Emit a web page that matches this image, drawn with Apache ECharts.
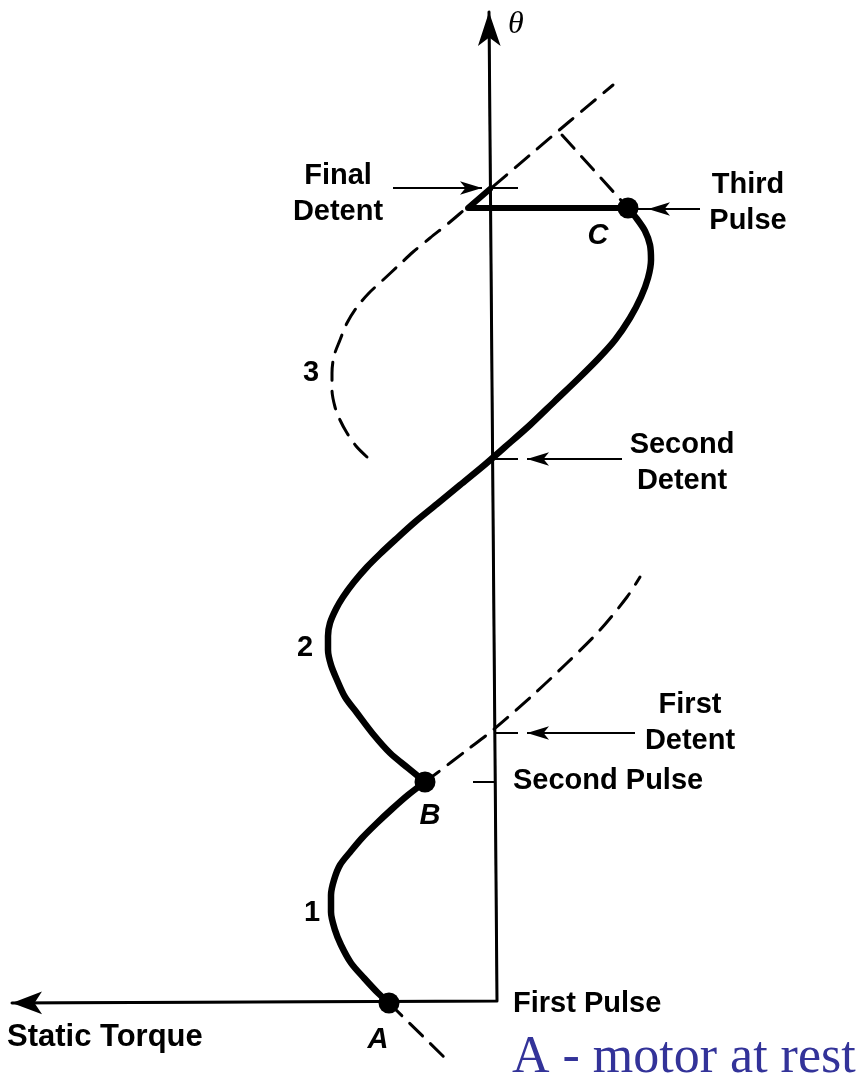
<!DOCTYPE html>
<html>
<head>
<meta charset="utf-8">
<script src="https://cdn.jsdelivr.net/npm/echarts@6/dist/echarts.min.js"></script>
<style>
  html, body { margin: 0; padding: 0; background: #fff; }
  #main { width: 863px; height: 1078px; }
</style>
</head>
<body>
<div id="main"></div>
<script>
// x = static torque (positive to the left), y = theta
const axisPath = [[478, -3], [-7, -1], [1, 988]];
// torque curve of phase 1, A -> B
const curve1 = [[101, -3], [112, 7], [126, 22], [139, 37], [149, 55], [155, 70], [159, 88],
  [159, 105], [156, 120], [150, 135], [139, 149], [128, 162], [113, 177], [98, 191],
  [82, 205], [65, 218]];
// torque curve of phase 2, B -> C
const curve2 = [[65, 218], [82, 232], [100, 247], [117, 266], [133, 287], [145, 303],
  [153, 320], [159, 335], [162, 350], [162, 364], [160, 377], [154, 391], [147, 403],
  [136, 418], [123, 433], [110, 446], [95, 460], [75, 478], [53, 496], [30, 515], [8, 533],
  [-15, 553], [-40, 575], [-65, 599], [-88, 621], [-108, 641], [-125, 660], [-140, 682],
  [-151, 703], [-158, 722], [-161, 740], [-160, 755], [-155, 769], [-147, 781], [-138, 792]];
// C -> final detent
const holdLine = [[-138, 792], [22, 792], [0, 811]];
// phase 3 (dashed)
const curve3 = [[123, 543], [134, 554], [143, 567], [150, 580], [155, 593], [158, 610],
  [158, 627], [156, 644], [150, 660], [143, 677], [133, 693], [121, 707], [107, 720],
  [92, 734], [77, 748], [60, 762], [40, 778], [20, 795], [0, 811], [-40, 845], [-80, 879],
  [-123, 915]];
const phase2Tail = [[65, 218], [53, 227], [23, 250], [-3, 270], [-43, 305], [-77, 337],
  [-110, 370], [-137, 403], [-150, 423]];
const phase1Tail = [[101, -3], [45, -58]];
const phase3Drop = [[-72, 865], [-138, 792]];
const dots = [[101, -3], [65, 218], [-138, 792]];
// label arrows and ticks
const pointers = [
  [[97, 812], [8, 812]],
  [[-210, 791], [-158, 791]],
  [[-132, 541], [-37, 541]],
  [[-145, 267], [-37, 267]]
];
const ticks = [
  [[0, 812], [-28, 812]],
  [[-158, 791], [-140, 791]],
  [[-3, 541], [-28, 541]],
  [[-5, 267], [-28, 267]],
  [[17, 218], [-6, 218]]
];

const myChart = echarts.init(document.getElementById('main'));

const dash = [18, 11];
function lineSeries(data, width, type, smooth) {
  return {
    type: 'line', data: data, smooth: smooth, symbol: 'none', silent: true,
    lineStyle: { color: '#000', width: width, type: type, cap: 'round', join: 'round' }
  };
}

const markItems = [];
pointers.forEach((p) => {
  markItems.push([{ coord: p[0], symbol: 'none' }, { coord: p[1], symbol: 'arrow', symbolSize: [10, 22] }]);
});
ticks.forEach((p) => {
  markItems.push([{ coord: p[0], symbol: 'none' }, { coord: p[1], symbol: 'none' }]);
});
// axis arrow heads
markItems.push([{ coord: axisPath[1], symbol: 'none' }, { coord: axisPath[0], symbol: 'arrow', symbolSize: [17, 30] }]);
markItems.push([{ coord: axisPath[1], symbol: 'none' }, { coord: axisPath[2], symbol: 'arrow', symbolSize: [17, 34] }]);

const font = '"Liberation Sans", Arial, sans-serif';
function txt(text, x, y, align, extra) {
  return {
    type: 'text', x: x, y: y, silent: true,
    style: Object.assign({
      text: text, fill: '#000', font: 'bold 29px ' + font,
      textAlign: align, textVerticalAlign: 'middle', lineHeight: 36
    }, extra || {})
  };
}

const option = {
  animation: false,
  grid: { left: 0, right: 0, top: 0, bottom: 0 },
  xAxis: { type: 'value', min: -373, max: 490, inverse: true, show: false },
  yAxis: { type: 'value', min: -78, max: 1000, show: false },
  series: [
    Object.assign(lineSeries(axisPath, 3, 'solid', false), {
      markLine: {
        silent: true, animation: false,
        label: { show: false },
        lineStyle: { color: '#000', width: 2, type: 'solid' },
        emphasis: { disabled: true },
        data: markItems
      }
    }),
    lineSeries(curve1, 6.5, 'solid', 0.3),
    lineSeries(curve2, 6.5, 'solid', 0.3),
    lineSeries(holdLine, 6, 'solid', false),
    lineSeries(curve3, 3, dash, 0.3),
    lineSeries(phase2Tail, 3, dash, 0.3),
    lineSeries(phase1Tail, 3, dash, false),
    lineSeries(phase3Drop, 3, dash, false),
    {
      type: 'scatter', data: dots, symbolSize: 21, silent: true,
      itemStyle: { color: '#000', opacity: 1 }
    }
  ],
  graphic: [
    txt('θ', 508, 25, 'left', { font: 'italic 32px "Liberation Serif", serif' }),
    txt('Final\nDetent', 338, 194, 'center'),
    txt('Third\nPulse', 748, 203, 'center'),
    txt('C', 598, 236, 'center', { font: 'italic bold 29px ' + font }),
    txt('3', 311, 373, 'center'),
    txt('Second\nDetent', 682, 463, 'center'),
    txt('2', 305, 648, 'center'),
    txt('First\nDetent', 690, 723, 'center'),
    txt('Second Pulse', 513, 781, 'left'),
    txt('B', 430, 816, 'center', { font: 'italic bold 29px ' + font }),
    txt('1', 312, 913, 'center'),
    txt('First Pulse', 513, 1004, 'left'),
    txt('Static Torque', 7, 1037, 'left', { font: 'bold 31px ' + font }),
    txt('A', 378, 1040, 'center', { font: 'italic bold 29px ' + font }),
    txt('A - motor at rest', 512, 1058, 'left', {
      font: '52px "Liberation Serif", "Times New Roman", serif', fill: '#333399'
    })
  ]
};
myChart.setOption(option, true);
</script>
</body>
</html>
